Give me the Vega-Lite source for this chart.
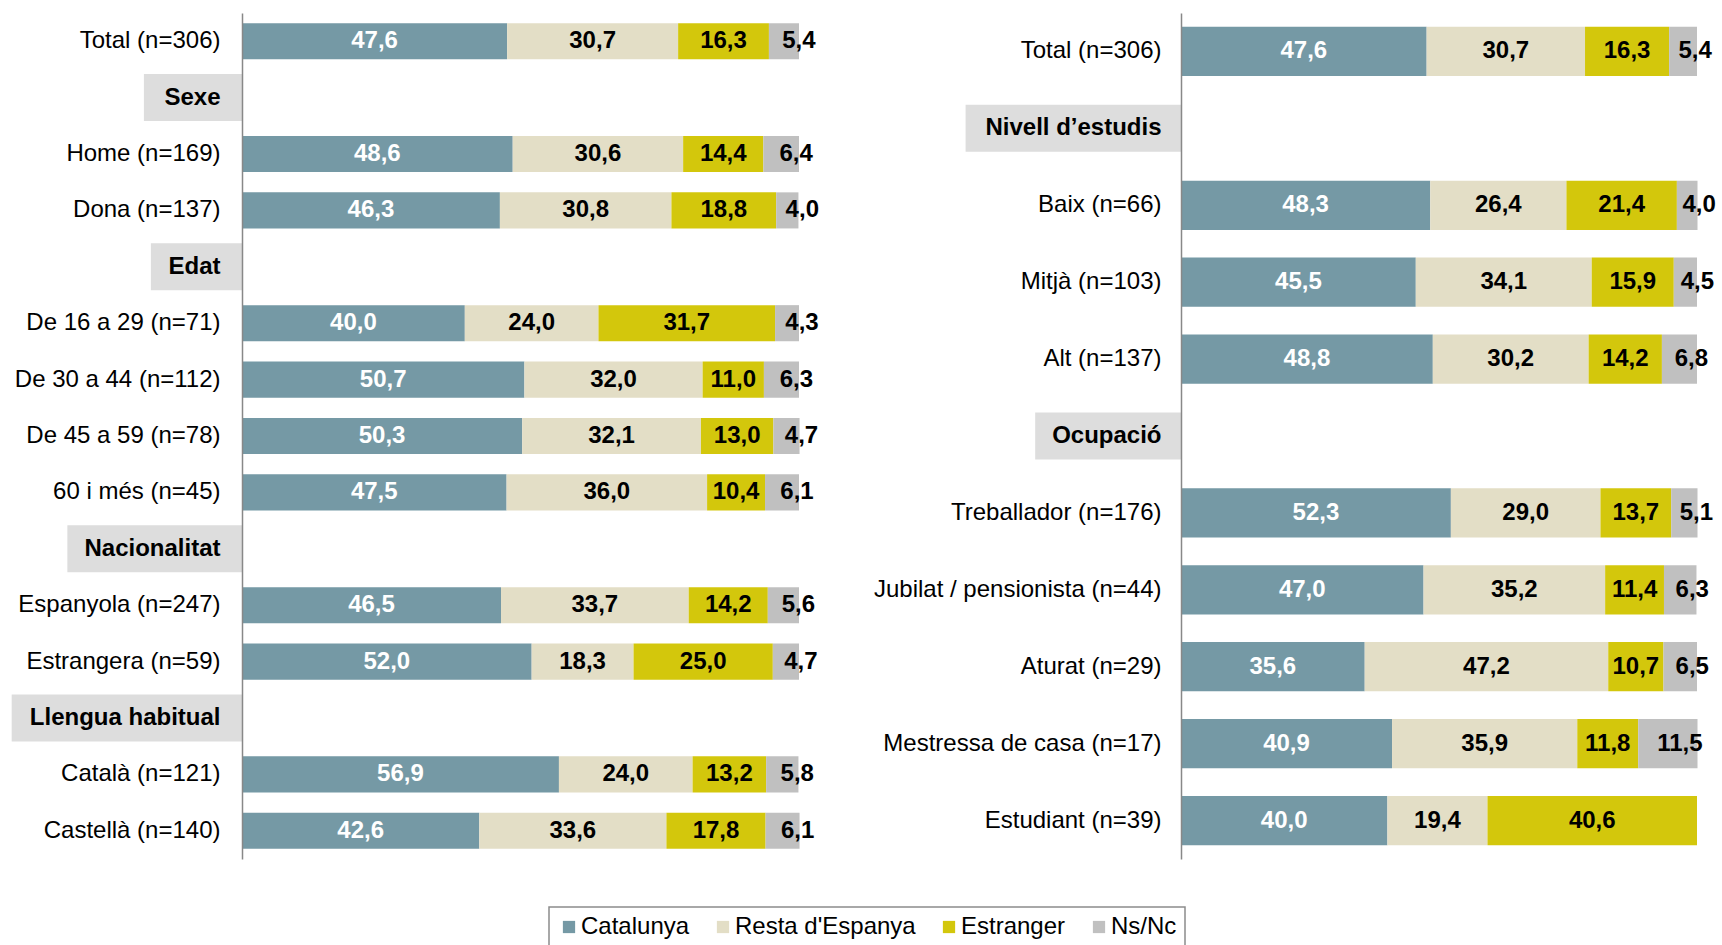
{
  "$schema": "https://vega.github.io/schema/vega-lite/v6.json",
  "autosize": {"type": "pad"},
  "padding": {"left": 11, "top": 13, "right": 0, "bottom": 0},
  "background": "white",
  "datasets": {
    "left": [
      {"row": "Total (n=306)", "cat": "Catalunya", "v": 47.6},
      {"row": "Total (n=306)", "cat": "Resta d'Espanya", "v": 30.7},
      {"row": "Total (n=306)", "cat": "Estranger", "v": 16.3},
      {"row": "Total (n=306)", "cat": "Ns/Nc", "v": 5.4},
      {"row": "Sexe"},
      {"row": "Home (n=169)", "cat": "Catalunya", "v": 48.6},
      {"row": "Home (n=169)", "cat": "Resta d'Espanya", "v": 30.6},
      {"row": "Home (n=169)", "cat": "Estranger", "v": 14.4},
      {"row": "Home (n=169)", "cat": "Ns/Nc", "v": 6.4},
      {"row": "Dona (n=137)", "cat": "Catalunya", "v": 46.3},
      {"row": "Dona (n=137)", "cat": "Resta d'Espanya", "v": 30.8},
      {"row": "Dona (n=137)", "cat": "Estranger", "v": 18.8},
      {"row": "Dona (n=137)", "cat": "Ns/Nc", "v": 4.0},
      {"row": "Edat"},
      {"row": "De 16 a 29 (n=71)", "cat": "Catalunya", "v": 40.0},
      {"row": "De 16 a 29 (n=71)", "cat": "Resta d'Espanya", "v": 24.0},
      {"row": "De 16 a 29 (n=71)", "cat": "Estranger", "v": 31.7},
      {"row": "De 16 a 29 (n=71)", "cat": "Ns/Nc", "v": 4.3},
      {"row": "De 30 a 44 (n=112)", "cat": "Catalunya", "v": 50.7},
      {"row": "De 30 a 44 (n=112)", "cat": "Resta d'Espanya", "v": 32.0},
      {"row": "De 30 a 44 (n=112)", "cat": "Estranger", "v": 11.0},
      {"row": "De 30 a 44 (n=112)", "cat": "Ns/Nc", "v": 6.3},
      {"row": "De 45 a 59 (n=78)", "cat": "Catalunya", "v": 50.3},
      {"row": "De 45 a 59 (n=78)", "cat": "Resta d'Espanya", "v": 32.1},
      {"row": "De 45 a 59 (n=78)", "cat": "Estranger", "v": 13.0},
      {"row": "De 45 a 59 (n=78)", "cat": "Ns/Nc", "v": 4.7},
      {"row": "60 i més (n=45)", "cat": "Catalunya", "v": 47.5},
      {"row": "60 i més (n=45)", "cat": "Resta d'Espanya", "v": 36.0},
      {"row": "60 i més (n=45)", "cat": "Estranger", "v": 10.4},
      {"row": "60 i més (n=45)", "cat": "Ns/Nc", "v": 6.1},
      {"row": "Nacionalitat"},
      {"row": "Espanyola (n=247)", "cat": "Catalunya", "v": 46.5},
      {"row": "Espanyola (n=247)", "cat": "Resta d'Espanya", "v": 33.7},
      {"row": "Espanyola (n=247)", "cat": "Estranger", "v": 14.2},
      {"row": "Espanyola (n=247)", "cat": "Ns/Nc", "v": 5.6},
      {"row": "Estrangera (n=59)", "cat": "Catalunya", "v": 52.0},
      {"row": "Estrangera (n=59)", "cat": "Resta d'Espanya", "v": 18.3},
      {"row": "Estrangera (n=59)", "cat": "Estranger", "v": 25.0},
      {"row": "Estrangera (n=59)", "cat": "Ns/Nc", "v": 4.7},
      {"row": "Llengua habitual"},
      {"row": "Català (n=121)", "cat": "Catalunya", "v": 56.9},
      {"row": "Català (n=121)", "cat": "Resta d'Espanya", "v": 24.0},
      {"row": "Català (n=121)", "cat": "Estranger", "v": 13.2},
      {"row": "Català (n=121)", "cat": "Ns/Nc", "v": 5.8},
      {"row": "Castellà (n=140)", "cat": "Catalunya", "v": 42.6},
      {"row": "Castellà (n=140)", "cat": "Resta d'Espanya", "v": 33.6},
      {"row": "Castellà (n=140)", "cat": "Estranger", "v": 17.8},
      {"row": "Castellà (n=140)", "cat": "Ns/Nc", "v": 6.1}
    ],
    "right": [
      {"row": "Total (n=306)", "cat": "Catalunya", "v": 47.6},
      {"row": "Total (n=306)", "cat": "Resta d'Espanya", "v": 30.7},
      {"row": "Total (n=306)", "cat": "Estranger", "v": 16.3},
      {"row": "Total (n=306)", "cat": "Ns/Nc", "v": 5.4},
      {"row": "Nivell d’estudis"},
      {"row": "Baix (n=66)", "cat": "Catalunya", "v": 48.3},
      {"row": "Baix (n=66)", "cat": "Resta d'Espanya", "v": 26.4},
      {"row": "Baix (n=66)", "cat": "Estranger", "v": 21.4},
      {"row": "Baix (n=66)", "cat": "Ns/Nc", "v": 4.0},
      {"row": "Mitjà (n=103)", "cat": "Catalunya", "v": 45.5},
      {"row": "Mitjà (n=103)", "cat": "Resta d'Espanya", "v": 34.1},
      {"row": "Mitjà (n=103)", "cat": "Estranger", "v": 15.9},
      {"row": "Mitjà (n=103)", "cat": "Ns/Nc", "v": 4.5},
      {"row": "Alt (n=137)", "cat": "Catalunya", "v": 48.8},
      {"row": "Alt (n=137)", "cat": "Resta d'Espanya", "v": 30.2},
      {"row": "Alt (n=137)", "cat": "Estranger", "v": 14.2},
      {"row": "Alt (n=137)", "cat": "Ns/Nc", "v": 6.8},
      {"row": "Ocupació"},
      {"row": "Treballador (n=176)", "cat": "Catalunya", "v": 52.3},
      {"row": "Treballador (n=176)", "cat": "Resta d'Espanya", "v": 29.0},
      {"row": "Treballador (n=176)", "cat": "Estranger", "v": 13.7},
      {"row": "Treballador (n=176)", "cat": "Ns/Nc", "v": 5.1},
      {"row": "Jubilat / pensionista (n=44)", "cat": "Catalunya", "v": 47.0},
      {"row": "Jubilat / pensionista (n=44)", "cat": "Resta d'Espanya", "v": 35.2},
      {"row": "Jubilat / pensionista (n=44)", "cat": "Estranger", "v": 11.4},
      {"row": "Jubilat / pensionista (n=44)", "cat": "Ns/Nc", "v": 6.3},
      {"row": "Aturat (n=29)", "cat": "Catalunya", "v": 35.6},
      {"row": "Aturat (n=29)", "cat": "Resta d'Espanya", "v": 47.2},
      {"row": "Aturat (n=29)", "cat": "Estranger", "v": 10.7},
      {"row": "Aturat (n=29)", "cat": "Ns/Nc", "v": 6.5},
      {"row": "Mestressa de casa (n=17)", "cat": "Catalunya", "v": 40.9},
      {"row": "Mestressa de casa (n=17)", "cat": "Resta d'Espanya", "v": 35.9},
      {"row": "Mestressa de casa (n=17)", "cat": "Estranger", "v": 11.8},
      {"row": "Mestressa de casa (n=17)", "cat": "Ns/Nc", "v": 11.5},
      {"row": "Estudiant (n=39)", "cat": "Catalunya", "v": 40.0},
      {"row": "Estudiant (n=39)", "cat": "Resta d'Espanya", "v": 19.4},
      {"row": "Estudiant (n=39)", "cat": "Estranger", "v": 40.6}
    ]
  },
  "config": {
    "view": {"stroke": null},
    "font": "Liberation Sans",
    "legend": {"strokeWidth": 1.5}
  },
  "spacing": 382,
  "bounds": "flush",
  "resolve": {"scale": {"y": "independent", "x": "independent", "color": "shared"}},
  "hconcat": [
    {
      "width": 557,
      "height": 846,
      "data": {"name": "left"},
      "encoding": {
        "y": {
          "field": "row", "type": "nominal",
          "scale": {"domain": ["Total (n=306)", "Sexe", "Home (n=169)", "Dona (n=137)", "Edat", "De 16 a 29 (n=71)", "De 30 a 44 (n=112)", "De 45 a 59 (n=78)", "60 i més (n=45)", "Nacionalitat", "Espanyola (n=247)", "Estrangera (n=59)", "Llengua habitual", "Català (n=121)", "Castellà (n=140)"], "paddingInner": 0.36, "paddingOuter": 0.18},
          "axis": {"labelPadding": 22, "title": null, "zindex": 2, "domainColor": "#888888", "domainWidth": 1.5, "ticks": false, "grid": false, "labelFont": "Liberation Sans", "labelFontSize": 24, "labelColor": "#000000", "labelLimit": 500, "labelFontWeight": {"condition": {"test": "indexof(datum.value, '(n=') < 0", "value": "bold"}, "value": "normal"}}
        }
      },
      "layer": [
        {
          "transform": [
            {"filter": "!datum.cat"},
            {"calculate": "length(datum.row)", "as": "n"},
            {"calculate": "length(datum.row) - length(replace(datum.row, regexp('[iltjfr’ ]', 'g'), ''))", "as": "nn"},
            {"calculate": "length(datum.row) - length(replace(datum.row, regexp('[A-Z]', 'g'), ''))", "as": "nu"},
            {"calculate": "-((0.58 * datum.n - 0.29 * datum.nn + 0.1 * datum.nu) * 24 + 40) / 5.57", "as": "hx"}
          ],
          "mark": {"type": "bar", "color": "#DDDDDD", "size": 47},
          "encoding": {
            "x": {"field": "hx", "type": "quantitative", "scale": {"domain": [0, 100], "nice": false, "zero": false}, "axis": null},
            "x2": {"datum": 0}
          }
        },
        {
          "transform": [
            {"filter": "datum.cat"},
            {"calculate": "indexof([\"Catalunya\", \"Resta d'Espanya\", \"Estranger\", \"Ns/Nc\"], datum.cat)", "as": "ord"},
            {"stack": "v", "groupby": ["row"], "sort": [{"field": "ord", "order": "ascending"}], "as": ["x0", "x1"]}
          ],
          "mark": {"type": "bar"},
          "encoding": {
            "x": {"field": "x0", "type": "quantitative", "axis": null},
            "x2": {"field": "x1"},
            "color": {
              "field": "cat", "type": "nominal",
              "scale": {"domain": ["Catalunya", "Resta d'Espanya", "Estranger", "Ns/Nc"], "range": ["#7599A5", "#E3DEC6", "#D3C70C", "#C0C0C0"]},
              "legend": {"orient": "none", "legendX": 307, "legendY": 894, "direction": "horizontal", "title": null, "symbolType": "square", "symbolSize": 150, "symbolStrokeWidth": 0, "labelFontSize": 24, "labelFont": "Liberation Sans", "labelColor": "#000000", "labelOffset": 0, "columnPadding": 21, "padding": 8, "strokeColor": "#8C8C8C", "fillColor": "#FFFFFF", "labelLimit": 400}
            }
          }
        },
        {
          "transform": [
            {"filter": "datum.cat"},
            {"calculate": "indexof([\"Catalunya\", \"Resta d'Espanya\", \"Estranger\", \"Ns/Nc\"], datum.cat)", "as": "ord"},
            {"stack": "v", "groupby": ["row"], "sort": [{"field": "ord", "order": "ascending"}], "as": ["x0", "x1"]},
            {"filter": "datum.cat !== 'Ns/Nc'"},
            {"calculate": "(datum.x0 + datum.x1) / 2", "as": "mid"},
            {"calculate": "replace(format(datum.v, '.1f'), '.', ',')", "as": "lab"}
          ],
          "mark": {"type": "text", "fontSize": 24, "fontWeight": "bold", "font": "Liberation Sans", "align": "center", "baseline": "middle"},
          "encoding": {
            "x": {"field": "mid", "type": "quantitative", "axis": null},
            "text": {"field": "lab"},
            "color": {"condition": {"test": "datum.cat === 'Catalunya'", "value": "#FFFFFF"}, "value": "#000000"}
          }
        },
        {
          "transform": [
            {"filter": "datum.cat"},
            {"calculate": "indexof([\"Catalunya\", \"Resta d'Espanya\", \"Estranger\", \"Ns/Nc\"], datum.cat)", "as": "ord"},
            {"stack": "v", "groupby": ["row"], "sort": [{"field": "ord", "order": "ascending"}], "as": ["x0", "x1"]},
            {"filter": "datum.cat === 'Ns/Nc'"},
            {"calculate": "(datum.x0 + datum.x1) / 2", "as": "mid"},
            {"calculate": "replace(format(datum.v, '.1f'), '.', ',')", "as": "lab"}
          ],
          "mark": {"type": "text", "fontSize": 24, "fontWeight": "bold", "font": "Liberation Sans", "align": "center", "baseline": "middle", "dx": 15, "color": "#000000"},
          "encoding": {
            "x": {"field": "mid", "type": "quantitative", "axis": null},
            "text": {"field": "lab"}
          }
        }
      ]
    },
    {
      "width": 516,
      "height": 846,
      "data": {"name": "right"},
      "encoding": {
        "y": {
          "field": "row", "type": "nominal",
          "scale": {"domain": ["Total (n=306)", "Nivell d’estudis", "Baix (n=66)", "Mitjà (n=103)", "Alt (n=137)", "Ocupació", "Treballador (n=176)", "Jubilat / pensionista (n=44)", "Aturat (n=29)", "Mestressa de casa (n=17)", "Estudiant (n=39)"], "paddingInner": 0.36, "paddingOuter": 0.18},
          "axis": {"labelPadding": 20, "title": null, "zindex": 2, "domainColor": "#888888", "domainWidth": 1.5, "ticks": false, "grid": false, "labelFont": "Liberation Sans", "labelFontSize": 24, "labelColor": "#000000", "labelLimit": 500, "labelFontWeight": {"condition": {"test": "indexof(datum.value, '(n=') < 0", "value": "bold"}, "value": "normal"}}
        }
      },
      "layer": [
        {
          "transform": [
            {"filter": "!datum.cat"},
            {"calculate": "length(datum.row)", "as": "n"},
            {"calculate": "length(datum.row) - length(replace(datum.row, regexp('[iltjfr’ ]', 'g'), ''))", "as": "nn"},
            {"calculate": "length(datum.row) - length(replace(datum.row, regexp('[A-Z]', 'g'), ''))", "as": "nu"},
            {"calculate": "-((0.58 * datum.n - 0.29 * datum.nn + 0.1 * datum.nu) * 24 + 39) / 5.16", "as": "hx"}
          ],
          "mark": {"type": "bar", "color": "#DDDDDD", "size": 47},
          "encoding": {
            "x": {"field": "hx", "type": "quantitative", "scale": {"domain": [0, 100], "nice": false, "zero": false}, "axis": null},
            "x2": {"datum": 0}
          }
        },
        {
          "transform": [
            {"filter": "datum.cat"},
            {"calculate": "indexof([\"Catalunya\", \"Resta d'Espanya\", \"Estranger\", \"Ns/Nc\"], datum.cat)", "as": "ord"},
            {"stack": "v", "groupby": ["row"], "sort": [{"field": "ord", "order": "ascending"}], "as": ["x0", "x1"]}
          ],
          "mark": {"type": "bar"},
          "encoding": {
            "x": {"field": "x0", "type": "quantitative", "axis": null},
            "x2": {"field": "x1"},
            "color": {"field": "cat", "type": "nominal", "legend": null}
          }
        },
        {
          "transform": [
            {"filter": "datum.cat"},
            {"calculate": "indexof([\"Catalunya\", \"Resta d'Espanya\", \"Estranger\", \"Ns/Nc\"], datum.cat)", "as": "ord"},
            {"stack": "v", "groupby": ["row"], "sort": [{"field": "ord", "order": "ascending"}], "as": ["x0", "x1"]},
            {"filter": "datum.cat !== 'Ns/Nc'"},
            {"calculate": "(datum.x0 + datum.x1) / 2", "as": "mid"},
            {"calculate": "replace(format(datum.v, '.1f'), '.', ',')", "as": "lab"}
          ],
          "mark": {"type": "text", "fontSize": 24, "fontWeight": "bold", "font": "Liberation Sans", "align": "center", "baseline": "middle"},
          "encoding": {
            "x": {"field": "mid", "type": "quantitative", "axis": null},
            "text": {"field": "lab"},
            "color": {"condition": {"test": "datum.cat === 'Catalunya'", "value": "#FFFFFF"}, "value": "#000000"}
          }
        },
        {
          "transform": [
            {"filter": "datum.cat"},
            {"calculate": "indexof([\"Catalunya\", \"Resta d'Espanya\", \"Estranger\", \"Ns/Nc\"], datum.cat)", "as": "ord"},
            {"stack": "v", "groupby": ["row"], "sort": [{"field": "ord", "order": "ascending"}], "as": ["x0", "x1"]},
            {"filter": "datum.cat === 'Ns/Nc'"},
            {"calculate": "(datum.x0 + datum.x1) / 2", "as": "mid"},
            {"calculate": "replace(format(datum.v, '.1f'), '.', ',')", "as": "lab"}
          ],
          "mark": {"type": "text", "fontSize": 24, "fontWeight": "bold", "font": "Liberation Sans", "align": "center", "baseline": "middle", "dx": 12, "color": "#000000"},
          "encoding": {
            "x": {"field": "mid", "type": "quantitative", "axis": null},
            "text": {"field": "lab"}
          }
        }
      ]
    }
  ]
}
